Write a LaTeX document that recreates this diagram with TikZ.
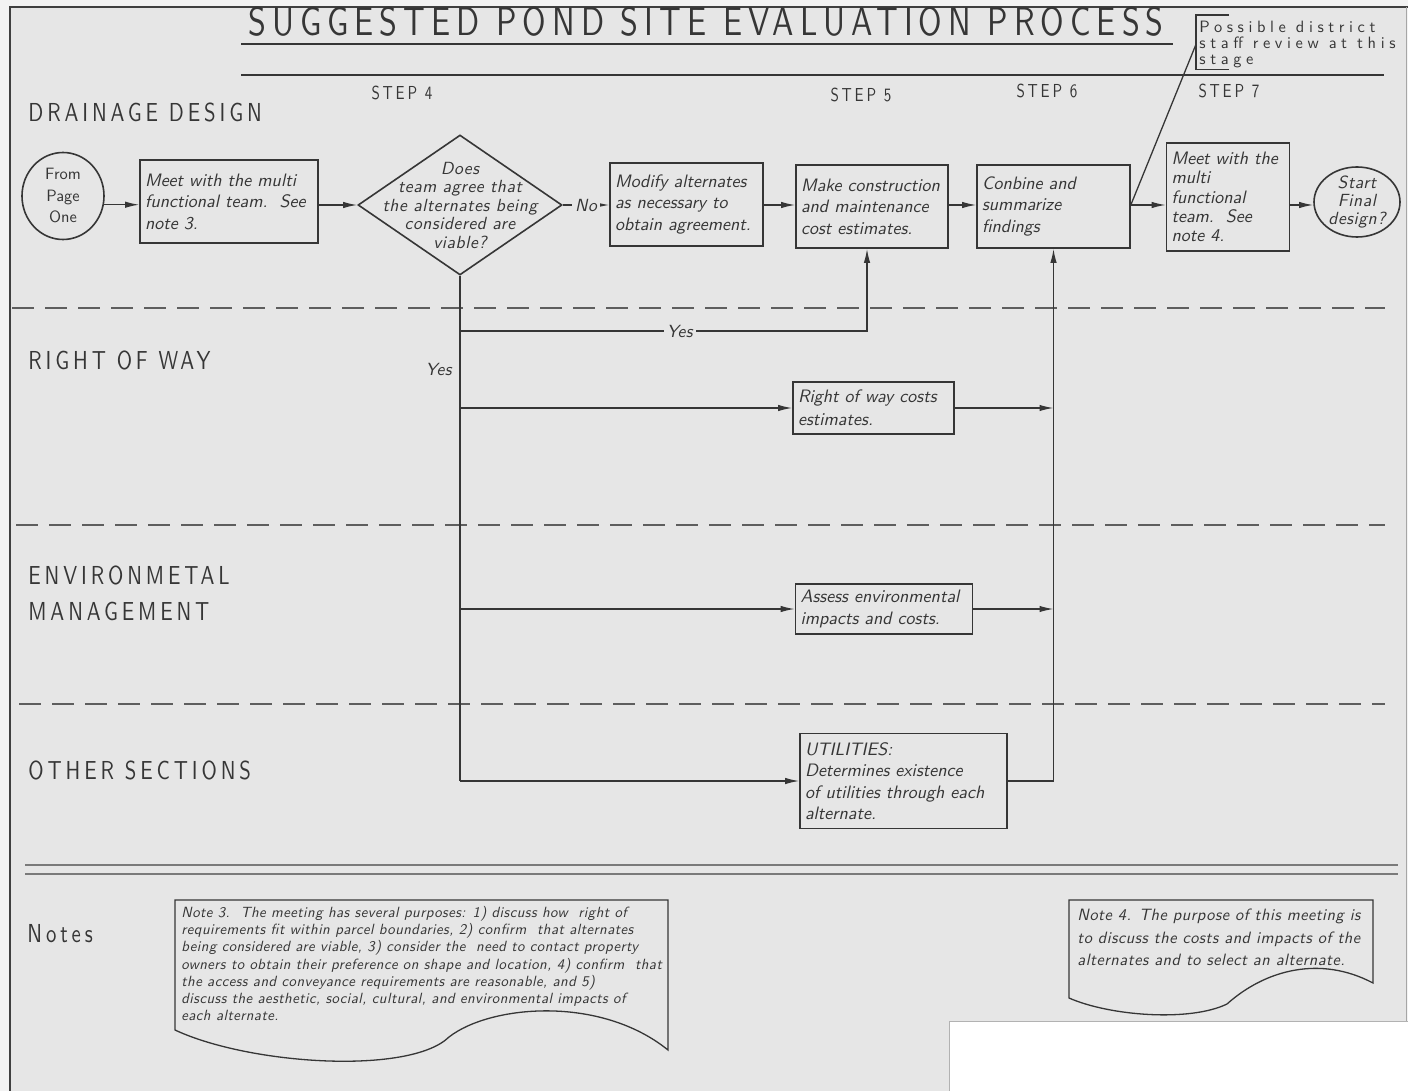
\documentclass[tikz,border=0pt]{standalone}
\usepackage{fontspec}
\usepackage{xcolor}
\usetikzlibrary{arrows.meta}
\usetikzlibrary{shapes.geometric}

\newfontfamily\cadfont{lmsans10-regular.otf}[FakeStretch=0.8,LetterSpace=15]
\newfontfamily\cadup{lmsans10-regular.otf}
\newfontfamily\revfont{lmsans10-regular.otf}[LetterSpace=28]
\newfontfamily\cadit{lmsans10-oblique.otf}[LetterSpace=3]
\newfontfamily\boxit{lmsans10-oblique.otf}

\definecolor{sheet}{HTML}{E6E6E6}
\definecolor{margin}{HTML}{F3F3F3}
\definecolor{ink}{HTML}{363636}
\definecolor{lanegray}{HTML}{5E5E5E}
\definecolor{rulegray}{HTML}{7A7A7A}

\tikzset{
  proc/.style={draw=ink,line width=0.8pt,text=ink,inner xsep=2.5pt,inner ysep=2pt,align=left,
    font=\boxit\fontsize{9}{10.75}\selectfont},
  decision/.style={draw=ink,line width=0.8pt,diamond,minimum width=102pt,minimum height=70pt,inner sep=0pt},
  terminal/.style={draw=ink,line width=0.8pt,ellipse,inner sep=0pt},
  dtext/.style={align=center,text=ink,inner sep=0pt,font=\cadit\fontsize{8.8}{9.25}\selectfont},
  flow/.style={draw=ink,line width=0.65pt,-{Latex[length=7pt,width=3.2pt]}},
  wire/.style={draw=ink,line width=0.65pt},
  lbl/.style={fill=sheet,inner sep=1.5pt,text=ink,font=\cadit\fontsize{8.8}{10}\selectfont},
  lanetitle/.style={anchor=base west,inner sep=0pt,text=ink,font=\cadfont\fontsize{13}{15}\selectfont},
  steptitle/.style={anchor=base,inner sep=0pt,text=ink,font=\cadfont\fontsize{9.4}{11}\selectfont},
  lanesep/.style={draw=lanegray,line width=1pt,dash pattern=on 11pt off 5.5pt},
  notetext/.style={anchor=north west,inner sep=0pt,align=left,text=ink},
}

\begin{document}
\begin{tikzpicture}[x=0.5pt,y=-0.5pt]

\useasboundingbox (0,0) rectangle (1408,1091);
\fill[margin] (0,0) rectangle (1408,1091);
\fill[sheet] (10,7) rectangle (1406,1091);
\draw[line width=1.1pt,black!75] (10,1091) -- (10,7) -- (1408,7);
\draw[line width=0.5pt,black!35] (1406,7) -- (1406,1091);

% headings
\node[font=\cadfont\fontsize{20}{22}\selectfont,text=ink,anchor=base,inner sep=0pt] (title) at (706,36) {SUGGESTED POND SITE EVALUATION PROCESS};
\draw[wire] (241,44) -- (1173,44);
\draw[wire] (241,75) -- (1384,75);

\node[steptitle] (step4) at (402,100) {STEP 4};
\node[steptitle] (step5) at (861,102) {STEP 5};
\node[steptitle] (step6) at (1047,98) {STEP 6};
\node[steptitle] (step7) at (1229,98) {STEP 7};

\node[lanetitle] (drain) at (28,122) {DRAINAGE DESIGN};
\node[lanetitle] (row) at (28,369) {RIGHT OF WAY};
\node[lanetitle] (env) at (28,584) {ENVIRONMETAL};
\node[lanetitle] (envb) at (28,620) {MANAGEMENT};
\node[lanetitle] (other) at (28,779) {OTHER SECTIONS};
\node[lanetitle] (notes) at (27,942) {Notes};

\foreach \y/\x in {308/12,525/16,704/19}
  \draw[lanesep] (\x,\y) -- (1385,\y);
\foreach \y in {865,874}
  \draw[draw=rulegray,line width=1.3pt] (25,\y) -- (1398,\y);

% drainage lane
\coordinate (mainy) at (0,205);
\node[terminal,minimum width=41pt,minimum height=43.5pt,
  label={[align=center,text=ink,font=\cadup\fontsize{8.2}{10.75}\selectfont]center:From\\Page\\One}] (from) at (63,196) {};
\node[proc,text width=84pt,minimum height=41.5pt] (meet1) at (229,201.5) {Meet with the multi\\functional team.\ \ See\\note 3.};
\node[decision,label={[dtext]center:Does\\team agree that\\the alternates being\\considered are\\viable?}] (agree) at (460,205) {};
\node[proc,text width=71.5pt,minimum height=41.5pt] (modify) at (686.5,204.5) {Modify alternates\\as necessary to\\obtain agreement.};
\node[proc,text width=71pt,minimum height=41.5pt] (estimate) at (872,206.5) {Make construction\\and maintenance\\cost estimates.};
\node[proc,text width=71.5pt,minimum height=41.5pt] (combine) at (1053.5,206.5) {Conbine and\\summarize\\findings};
\node[proc,text width=56.5pt,minimum height=54pt,font=\boxit\fontsize{9}{9.6}\selectfont] (meet2) at (1228,197) {Meet with the\\multi\\functional\\team.\ \ See\\note 4.};
\node[terminal,minimum width=43pt,minimum height=35pt,
  label={[dtext,font=\cadit\fontsize{8.8}{9}\selectfont]center:Start\\Final\\design?}] (start) at (1357,202) {};

\node[anchor=north west,inner xsep=1.5pt,inner ysep=0pt,align=left,text=ink,
  font=\revfont\fontsize{8.2}{8}\selectfont] (revnote) at (1196,20.5) {Possible district\\staff review at this\\stage};
\draw[wire] ([shift={(16.5pt,2.75pt)}]revnote.north west) -- ([yshift=2.75pt]revnote.north west) -- ([yshift=-0.75pt]revnote.south west) -- ([shift={(16.5pt,-0.75pt)}]revnote.south west);

% other lanes
\node[proc,text width=75.5pt,minimum height=26pt,font=\boxit\fontsize{9}{11.5}\selectfont] (rowcost) at (873.5,408) {Right of way costs\\estimates.};
\node[proc,text width=83.5pt,minimum height=25pt] (envcost) at (884,609) {Assess environmental\\impacts and costs.};
\node[proc,text width=98.5pt,minimum height=47.5pt] (utility) at (903.5,781) {UTILITIES:\\Determines existence\\of utilities through each\\alternate.};

\coordinate (yesrow) at (460,331);
\coordinate (yesend) at ([xshift=-2.5pt]estimate.south);
\node[lbl,anchor=base east,fill=none] (yesdown) at (455,375) {Yes};

\draw[flow] (from.-12) -- (from.-12 -| meet1.west);
\draw[flow] (meet1.east |- mainy) -- (agree.west);
\draw[flow] (agree.east) -- node[lbl]{No} (agree.east -| modify.west);
\draw[flow] (modify.east |- mainy) -- (estimate.west |- mainy);
\draw[flow] (estimate.east |- mainy) -- (combine.west |- mainy);
\draw[flow] (combine.east |- mainy) -- (meet2.west |- mainy);
\draw[flow] (meet2.east |- mainy) -- (start.west |- mainy);
\draw[wire] (combine.east |- mainy) -- (revnote.west);

\draw[wire] (agree.south) -- (agree.south |- utility.west);
\draw[flow] (yesrow) -- node[lbl,pos=0.54]{Yes} (yesend |- yesrow) -- (yesend);
\draw[flow] (agree.south |- rowcost.west) -- (rowcost.west);
\draw[flow] (agree.south |- envcost.west) -- (envcost.west);
\draw[flow] (agree.south |- utility.west) -- (utility.west);
\draw[flow] (rowcost.east) -- (rowcost.east -| combine.south);
\draw[flow] (envcost.east) -- (envcost.east -| combine.south);
\draw[flow] (utility.east) -| (combine.south);

% notes
\node[notetext,font=\cadit\fontsize{7.4}{8.6}\selectfont] (note3) at (181,906) {Note 3.\ \ The meeting has several purposes: 1) discuss how\ \ right of\\requirements fit within parcel boundaries, 2) confirm\ \ that alternates\\being considered are viable, 3) consider the\ \ need to contact property\\owners to obtain their preference on shape and location, 4) confirm\ \ that\\the access and conveyance requirements are reasonable, and 5)\\discuss the aesthetic, social, cultural, and environmental impacts of\\each alternate.};
\draw[wire] (175,1030) -- (175,900) -- (668,900) -- (668,1050) .. controls (600,995) and (490,1005) .. (449,1037) .. controls (410,1075) and (250,1065) .. cycle;

\node[notetext,font=\cadit\fontsize{8.2}{11.25}\selectfont] (note4) at (1077,909) {Note 4. The purpose of this meeting is\\to discuss the costs and impacts of the\\alternates and to select an alternate.};
\draw[wire] (1069,998) -- (1069,900) -- (1373,900) -- (1373,983) .. controls (1320,955) and (1265,970) .. (1227,1004) .. controls (1190,1022) and (1110,1016) .. cycle;

\filldraw[fill=white,draw=black!30,line width=0.5pt] (949,1021) rectangle (1410,1093);

\end{tikzpicture}
\end{document}
